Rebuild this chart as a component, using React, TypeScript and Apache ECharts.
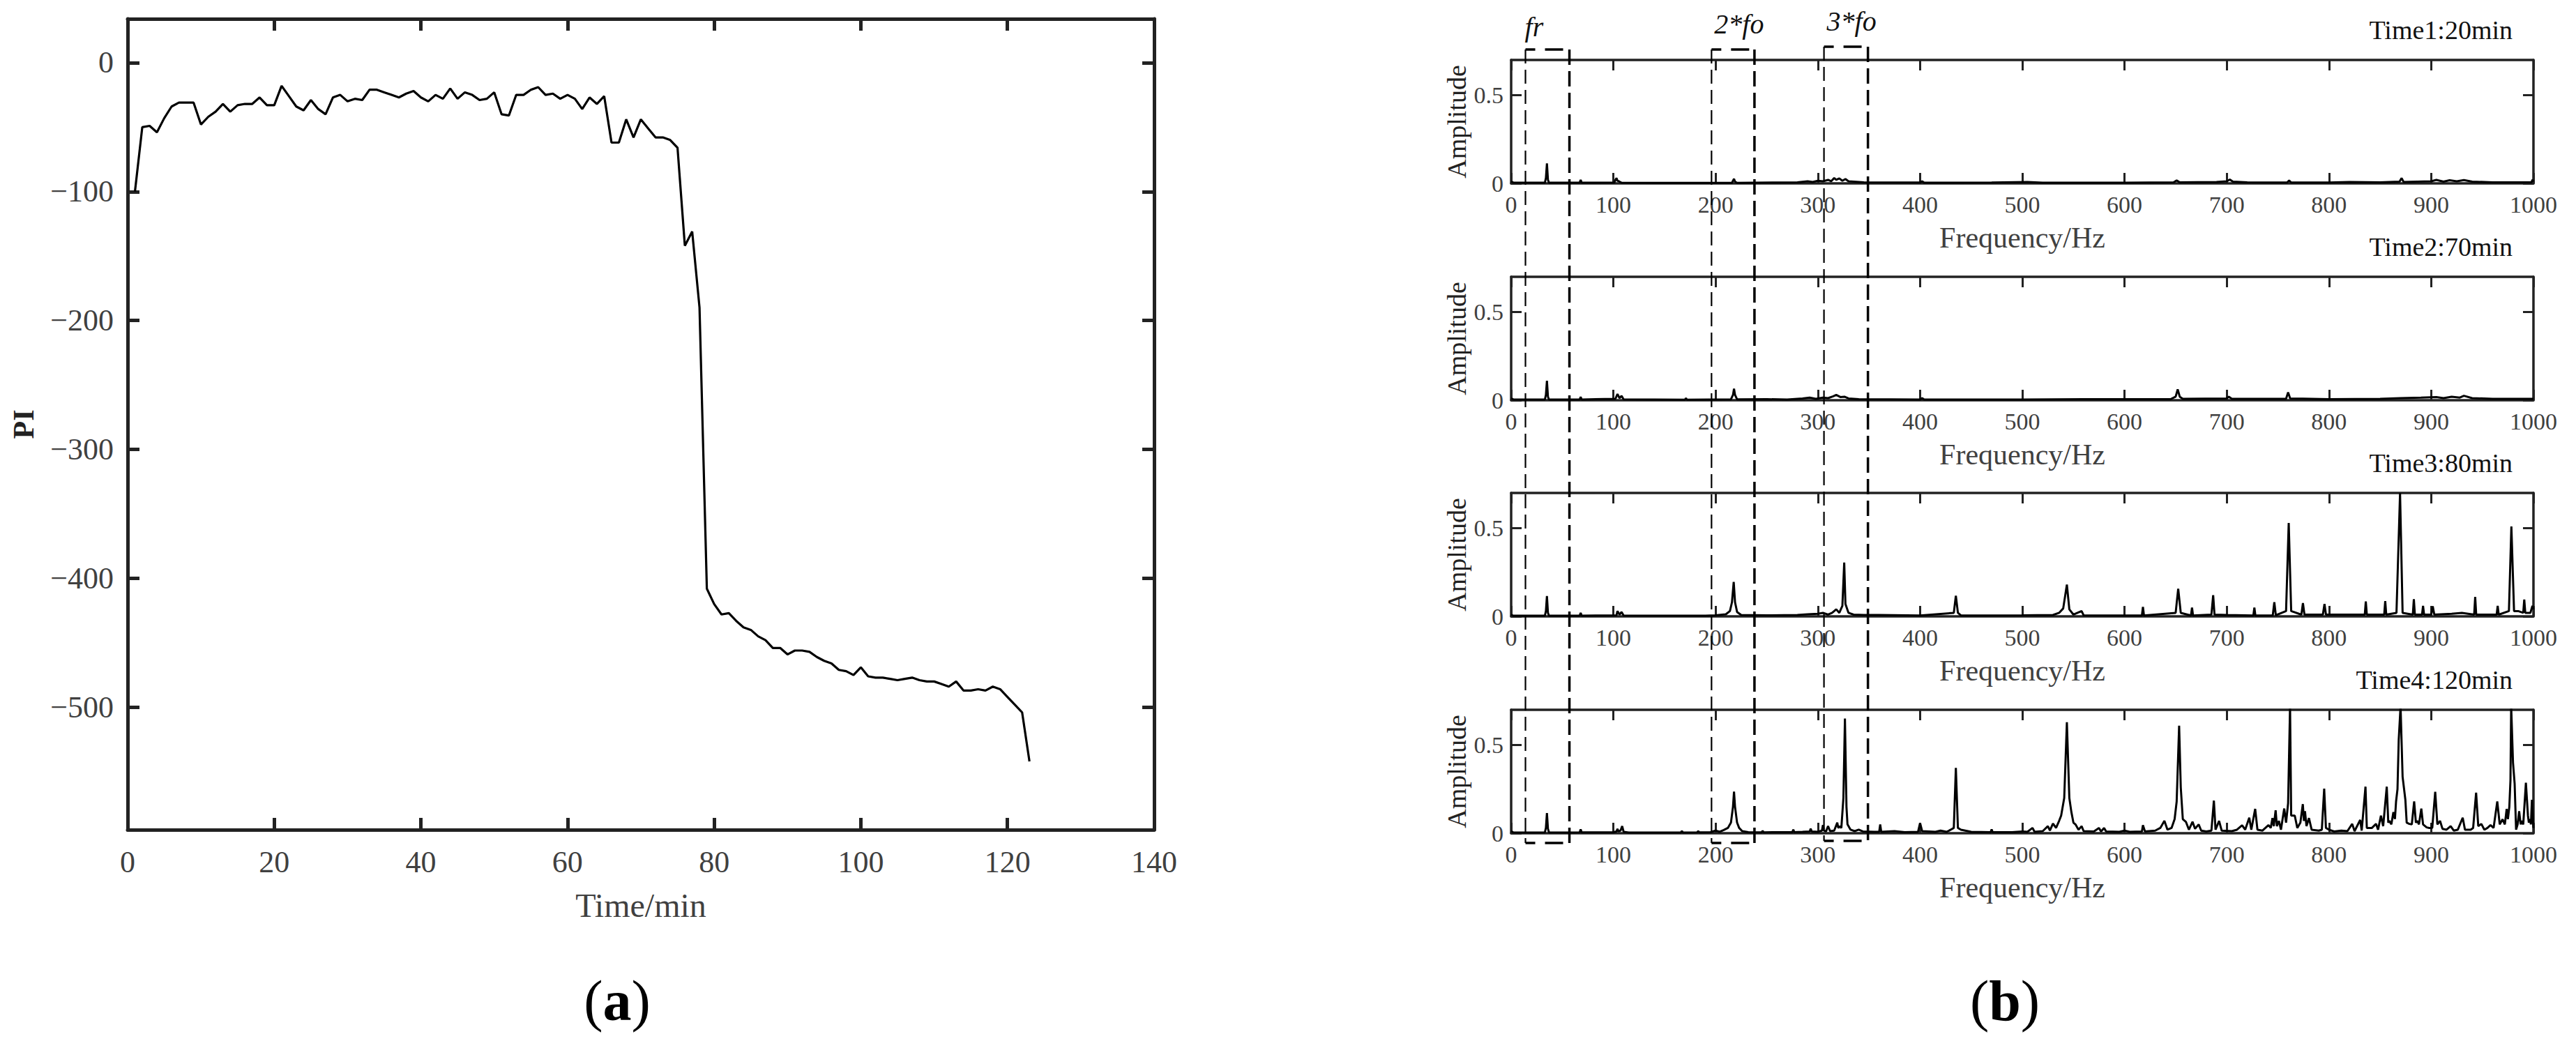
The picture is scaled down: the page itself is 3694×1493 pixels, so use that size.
import React, { useEffect, useRef } from "react";
import * as echarts from "echarts";

// ---------- data: panel (a) ----------
const PI_TIME = [
  1, 2, 3, 4, 5, 6, 7, 8, 9, 10, 11, 12, 13, 14, 15, 16, 17, 18, 19, 20,
  21, 22, 23, 24, 25, 26, 27, 28, 29, 30, 31, 32, 33, 34, 35, 36, 37, 38, 39, 40,
  41, 42, 43, 44, 45, 46, 47, 48, 49, 50, 51, 52, 53, 54, 55, 56, 57, 58, 59, 60,
  61, 62, 63, 64, 65, 66, 67, 68, 69, 70, 71, 72, 73, 74, 75, 76, 77, 78, 79, 80,
  81, 82, 83, 84, 85, 86, 87, 88, 89, 90, 91, 92, 93, 94, 95, 96, 97, 98, 99, 100,
  101, 102, 103, 104, 105, 106, 107, 108, 109, 110, 111, 112, 113, 114, 115, 116, 117, 118, 119, 120,
  121, 122, 123,
];
const PI_VALUES = [
  -100, -50, -49, -54, -43, -34, -31, -31, -31, -48,
  -42, -38, -32, -38, -33, -32, -32, -27, -33, -33,
  -18, -26, -34, -37, -29, -36, -40, -27, -25, -30,
  -28, -29, -21, -21, -23, -25, -27, -24, -22, -27,
  -30, -25, -28, -20, -28, -23, -25, -29, -28, -23,
  -40, -41, -25, -25, -21, -19, -25, -24, -28, -25,
  -28, -36, -27, -32, -26, -62, -62, -44, -58, -44,
  -51, -58, -58, -60, -66, -142, -131, -190, -408, -420,
  -428, -427, -433, -438, -440, -445, -448, -454, -454, -459,
  -456, -456, -457, -461, -464, -466, -471, -472, -475, -469,
  -476, -477, -477, -478, -479, -478, -477, -479, -480, -480,
  -482, -484, -480, -487, -487, -486, -487, -484, -486, -492,
  -498, -504, -542,
];
const PI_X_TICKS = [0, 20, 40, 60, 80, 100, 120, 140];
const PI_Y_TICKS = [-500, -400, -300, -200, -100, 0];

// ---------- data: panel (b) spectra, [frequency Hz, amplitude] ----------
const SPEC_TIME1 = [
  [0, 0.01], [2, 0.005], [33, 0.004], [34, 0.03], [35, 0.113], [36, 0.02], [37, 0.004],
  [67, 0.004], [68, 0.02], [69, 0.004], [101, 0.005], [102, 0.02], [103, 0.03], [104, 0.015],
  [106, 0.01], [108, 0.004], [150, 0.003], [216, 0.003], [217, 0.015], [218, 0.026], [219, 0.01],
  [221, 0.003], [260, 0.005], [280, 0.006], [290, 0.012], [295, 0.008], [300, 0.015], [305, 0.012],
  [310, 0.02], [313, 0.012], [316, 0.03], [318, 0.02], [321, 0.028], [324, 0.015], [327, 0.025],
  [330, 0.012], [335, 0.01], [345, 0.006], [400, 0.005], [402, 0.012], [404, 0.004], [470, 0.005],
  [505, 0.008], [520, 0.004], [600, 0.004], [648, 0.006], [651, 0.017], [654, 0.006], [690, 0.008],
  [700, 0.012], [703, 0.022], [706, 0.01], [720, 0.006], [759, 0.005], [761, 0.016], [763, 0.005],
  [800, 0.005], [820, 0.008], [850, 0.006], [869, 0.01], [871, 0.03], [873, 0.008], [900, 0.012],
  [905, 0.02], [912, 0.01], [918, 0.018], [925, 0.012], [932, 0.019], [940, 0.01], [960, 0.006],
  [998, 0.006], [999, 0.02], [1000, 0.01],
];
const SPEC_TIME2 = [
  [0, 0.01], [2, 0.005], [33, 0.004], [34, 0.03], [35, 0.11], [36, 0.02], [37, 0.004],
  [67, 0.004], [68, 0.018], [69, 0.004], [102, 0.008], [104, 0.035], [106, 0.012], [108, 0.025],
  [110, 0.005], [170, 0.003], [171, 0.012], [172, 0.003], [215, 0.005], [217, 0.03], [218, 0.065],
  [219, 0.03], [221, 0.005], [250, 0.006], [270, 0.004], [285, 0.01], [292, 0.015], [298, 0.008],
  [305, 0.015], [310, 0.012], [315, 0.022], [318, 0.03], [322, 0.018], [326, 0.02], [330, 0.01],
  [340, 0.006], [400, 0.004], [402, 0.012], [404, 0.004], [500, 0.004], [560, 0.006], [645, 0.006],
  [650, 0.02], [652, 0.062], [654, 0.02], [657, 0.008], [700, 0.01], [702, 0.02], [705, 0.008],
  [758, 0.008], [760, 0.045], [762, 0.01], [800, 0.006], [850, 0.008], [870, 0.012], [890, 0.015],
  [905, 0.018], [912, 0.012], [920, 0.02], [928, 0.015], [932, 0.025], [940, 0.012], [960, 0.008],
  [1000, 0.008],
];
const SPEC_TIME3 = [
  [0, 0.01], [2, 0.004], [33, 0.004], [34, 0.03], [35, 0.115], [36, 0.02], [37, 0.004],
  [67, 0.004], [68, 0.02], [69, 0.004], [103, 0.006], [104, 0.03], [106, 0.01], [108, 0.025],
  [110, 0.005], [190, 0.004], [200, 0.006], [210, 0.012], [214, 0.03], [216, 0.08], [217.7, 0.195],
  [219, 0.08], [221, 0.025], [225, 0.008], [250, 0.006], [280, 0.008], [290, 0.012], [300, 0.015],
  [305, 0.02], [310, 0.01], [314, 0.02], [318, 0.04], [321, 0.02], [324, 0.06], [325.8, 0.305],
  [327, 0.07], [330, 0.02], [335, 0.01], [345, 0.008], [360, 0.008], [400, 0.005], [433, 0.02],
  [435, 0.117], [437, 0.02], [440, 0.005], [500, 0.006], [530, 0.008], [536, 0.02], [540, 0.045],
  [543.6, 0.18], [546, 0.04], [550, 0.01], [558, 0.03], [560, 0.006], [600, 0.005], [617, 0.005],
  [618, 0.054], [619, 0.005], [650, 0.02], [652.5, 0.157], [655, 0.02], [665, 0.005], [666, 0.05],
  [667, 0.005], [685, 0.01], [686.7, 0.12], [688, 0.01], [700, 0.008], [726, 0.005], [727, 0.05],
  [728, 0.005], [745, 0.006], [746.5, 0.08], [748, 0.006], [758, 0.03], [760.6, 0.53], [763, 0.03],
  [773, 0.01], [774.5, 0.075], [776, 0.01], [794, 0.01], [795.6, 0.07], [797, 0.01], [820, 0.01],
  [835, 0.01], [836, 0.085], [837, 0.01], [854, 0.01], [855, 0.087], [856, 0.01], [866, 0.02],
  [869.5, 0.7], [872, 0.02], [882, 0.01], [883, 0.097], [884, 0.01], [891, 0.01], [892, 0.06],
  [893, 0.01], [900, 0.01], [901.5, 0.057], [903, 0.01], [920, 0.015], [930, 0.02], [942, 0.01],
  [943, 0.11], [944, 0.01], [964, 0.01], [965, 0.06], [966, 0.01], [976, 0.03], [978.4, 0.51],
  [981, 0.03], [985, 0.03], [990, 0.02], [991, 0.095], [992, 0.02], [997, 0.02], [999, 0.06],
  [1000, 0.04],
];
const SPEC_TIME4 = [
  [0, 0.012], [2, 0.005], [20, 0.004], [33, 0.005], [34, 0.03], [35, 0.114], [36, 0.025], [37, 0.005],
  [60, 0.004], [67, 0.005], [68, 0.022], [69, 0.005], [100, 0.005], [103, 0.01], [104, 0.024],
  [105, 0.01], [107, 0.015], [108.6, 0.04], [110, 0.008], [115, 0.004], [150, 0.004], [166, 0.004],
  [167, 0.012], [168, 0.004], [182, 0.005], [183, 0.012], [184, 0.005], [195, 0.006], [200, 0.015],
  [204, 0.008], [208, 0.018], [212, 0.03], [215, 0.06], [217, 0.15], [218, 0.236], [219, 0.15],
  [221, 0.06], [223, 0.03], [226, 0.012], [232, 0.006], [245, 0.005], [246, 0.013], [247, 0.005],
  [260, 0.006], [275, 0.006], [276, 0.02], [277, 0.006], [285, 0.008], [292, 0.01], [293, 0.026],
  [294, 0.01], [300, 0.008], [304, 0.015], [305, 0.046], [306, 0.015], [308, 0.01], [310, 0.04],
  [312, 0.012], [316, 0.015], [319, 0.06], [320, 0.03], [321.5, 0.04], [323, 0.03], [325, 0.2],
  [326.5, 0.65], [328, 0.15], [329, 0.05], [332, 0.02], [336, 0.012], [340, 0.02], [344, 0.01],
  [355, 0.008], [360, 0.008], [361, 0.05], [362, 0.008], [375, 0.012], [385, 0.006], [398, 0.008],
  [400, 0.058], [402, 0.012], [415, 0.008], [420, 0.015], [426, 0.008], [430, 0.02], [433, 0.03],
  [435, 0.371], [437, 0.03], [440, 0.02], [450, 0.008], [469, 0.006], [470, 0.022], [471, 0.006],
  [490, 0.006], [500, 0.01], [505, 0.008], [510, 0.03], [512, 0.008], [520, 0.012], [525, 0.04],
  [527, 0.015], [530, 0.055], [533, 0.03], [536, 0.07], [538, 0.1], [541, 0.2], [543.6, 0.63],
  [546, 0.2], [548, 0.12], [550, 0.06], [552, 0.05], [555, 0.02], [558, 0.04], [560, 0.012],
  [570, 0.01], [575, 0.03], [577, 0.01], [580, 0.03], [582, 0.01], [595, 0.008], [600, 0.015],
  [605, 0.008], [617, 0.01], [618, 0.046], [620, 0.01], [630, 0.015], [635, 0.03], [639, 0.07],
  [642, 0.02], [646, 0.03], [649, 0.08], [651, 0.18], [653.4, 0.61], [655, 0.26], [657, 0.08],
  [660, 0.065], [663, 0.02], [666.5, 0.065], [669, 0.025], [672.5, 0.05], [675, 0.015], [680, 0.01],
  [685, 0.015], [687.4, 0.185], [689, 0.02], [692.5, 0.07], [695, 0.015], [705, 0.012], [710, 0.02],
  [715, 0.045], [718, 0.02], [722, 0.088], [724, 0.02], [727.8, 0.138], [730, 0.02], [735, 0.015],
  [740.8, 0.046], [743, 0.03], [744.7, 0.086], [746, 0.04], [747.8, 0.13], [749, 0.04], [751, 0.07],
  [753, 0.02], [756.2, 0.14], [758, 0.06], [760, 0.17], [761.9, 0.72], [763, 0.1], [766.5, 0.1],
  [769, 0.03], [772, 0.06], [774.4, 0.165], [775.5, 0.07], [776.5, 0.125], [778, 0.04], [780.4, 0.086],
  [783, 0.02], [790, 0.015], [793, 0.02], [795.3, 0.253], [797, 0.03], [800, 0.02], [805, 0.01],
  [812, 0.015], [818, 0.012], [822.7, 0.053], [825, 0.012], [830.5, 0.075], [832, 0.015],
  [835.7, 0.264], [837, 0.03], [842, 0.03], [846, 0.053], [848, 0.02], [850.8, 0.1], [853, 0.04],
  [856.5, 0.264], [858, 0.06], [859, 0.07], [861, 0.05], [863, 0.12], [864.5, 0.08], [865.6, 0.18],
  [867, 0.25], [868.2, 0.53], [870, 0.72], [872, 0.32], [874.7, 0.19], [876, 0.06], [878.6, 0.053],
  [881, 0.05], [883.3, 0.18], [885, 0.06], [886.4, 0.07], [888, 0.05], [890.3, 0.14], [892, 0.05],
  [895.5, 0.033], [898, 0.03], [901, 0.03], [903.9, 0.235], [906, 0.05], [908.6, 0.07], [911, 0.025],
  [915, 0.02], [919, 0.04], [922, 0.015], [926, 0.02], [930.8, 0.088], [933, 0.02], [938.6, 0.02],
  [941, 0.03], [943.9, 0.23], [946, 0.04], [949, 0.053], [952, 0.02], [955, 0.03], [958, 0.046],
  [961, 0.03], [964.6, 0.18], [967, 0.05], [969.8, 0.079], [972, 0.05], [973.8, 0.138], [975, 0.08],
  [976.4, 0.15], [977.5, 0.3], [978.2, 0.72], [980, 0.4], [981.6, 0.28], [983, 0.02], [984.5, 0.05],
  [986, 0.125], [987.5, 0.05], [988.6, 0.07], [990, 0.05], [992.6, 0.286], [994.6, 0.1], [995.5, 0.06],
  [996.7, 0.08], [997.5, 0.05], [998.5, 0.19], [999.8, 0.04], [1000, 0.03],
];
const SPECTRA = [SPEC_TIME1, SPEC_TIME2, SPEC_TIME3, SPEC_TIME4];
const SPEC_LABELS = ["Time1:20min", "Time2:70min", "Time3:80min", "Time4:120min"];
const SPEC_Y_TICKS = [0, 0.5];

// dashed marker boxes (frequency ranges, Hz) and their labels
const BOX_RANGES = [
  [14, 57],
  [196, 238],
  [306, 349],
];
const BOX_LABELS = ["fr", "2*fo", "3*fo"];

// ---------- layout ----------
const W = 3694;
const H = 1493;
const FONT = "'Liberation Serif', 'Times New Roman', Times, serif";
const FRAME = "#222222";
const LABEL = "#404040";

const LEFT_GRID = { left: 183, top: 27, width: 1472, height: 1163 };
const RIGHT_LEFT = 2167;
const RIGHT_WIDTH = 1466;
const RIGHT_TOPS = [86, 397, 707, 1018];
const RIGHT_HEIGHT = 177;

const minusFmt = (v: number) => (v < 0 ? "\u2212" + Math.abs(v) : String(v));
const plainFmt = (v: number) => String(v);

function buildOption() {
  const grids: any[] = [
    { left: LEFT_GRID.left, top: LEFT_GRID.top, width: LEFT_GRID.width, height: LEFT_GRID.height, containLabel: false },
  ];
  RIGHT_TOPS.forEach((t) =>
    grids.push({ left: RIGHT_LEFT, top: t, width: RIGHT_WIDTH, height: RIGHT_HEIGHT, containLabel: false })
  );

  const xAxes: any[] = [];
  const yAxes: any[] = [];

  // panel (a)
  const aLine = { show: true, onZero: false, lineStyle: { color: FRAME, width: 5 } };
  const aTick = { show: true, inside: true, length: 17, lineStyle: { color: FRAME, width: 5 } };
  xAxes.push({
    gridIndex: 0,
    type: "value",
    position: "bottom",
    min: PI_X_TICKS[0],
    max: PI_X_TICKS[PI_X_TICKS.length - 1],
    interval: 20,
    axisLine: aLine,
    axisTick: aTick,
    splitLine: { show: false },
    axisLabel: { fontFamily: FONT, fontSize: 44, color: LABEL, margin: 24, formatter: plainFmt },
    name: "Time/min",
    nameLocation: "middle",
    nameGap: 84,
    nameTextStyle: { fontFamily: FONT, fontSize: 48, color: LABEL },
  });
  xAxes.push({
    gridIndex: 0,
    type: "value",
    position: "top",
    min: PI_X_TICKS[0],
    max: PI_X_TICKS[PI_X_TICKS.length - 1],
    interval: 20,
    axisLine: aLine,
    axisTick: aTick,
    splitLine: { show: false },
    axisLabel: { show: false },
  });
  yAxes.push({
    gridIndex: 0,
    type: "value",
    position: "left",
    min: -595,
    max: 34,
    axisLine: aLine,
    axisTick: { ...aTick, customValues: PI_Y_TICKS },
    splitLine: { show: false },
    axisLabel: {
      customValues: PI_Y_TICKS,
      formatter: minusFmt,
      fontFamily: FONT,
      fontSize: 44,
      color: LABEL,
      margin: 20,
    },
    name: "PI",
    nameLocation: "middle",
    nameGap: 128,
    nameTextStyle: { fontFamily: FONT, fontSize: 42, fontWeight: "bold", color: "#222" },
  });
  yAxes.push({
    gridIndex: 0,
    type: "value",
    position: "right",
    min: -595,
    max: 34,
    axisLine: aLine,
    axisTick: { ...aTick, customValues: PI_Y_TICKS },
    splitLine: { show: false },
    axisLabel: { show: false },
  });

  // panel (b)
  const bLine = { show: true, onZero: false, lineStyle: { color: FRAME, width: 3.5 } };
  const bTick = { show: true, inside: true, length: 15, lineStyle: { color: FRAME, width: 3 } };
  for (let i = 0; i < 4; i++) {
    const g = i + 1;
    xAxes.push({
      gridIndex: g,
      type: "value",
      position: "bottom",
      min: 0,
      max: 1000,
      interval: 100,
      axisLine: bLine,
      axisTick: bTick,
      splitLine: { show: false },
      axisLabel: { fontFamily: FONT, fontSize: 34, color: LABEL, margin: 13, formatter: plainFmt },
      name: "Frequency/Hz",
      nameLocation: "middle",
      nameGap: 57,
      nameTextStyle: { fontFamily: FONT, fontSize: 42, color: LABEL },
    });
    xAxes.push({
      gridIndex: g,
      type: "value",
      position: "top",
      min: 0,
      max: 1000,
      interval: 100,
      axisLine: bLine,
      axisTick: bTick,
      splitLine: { show: false },
      axisLabel: { show: false },
    });
    yAxes.push({
      gridIndex: g,
      type: "value",
      position: "left",
      min: 0,
      max: 0.7,
      axisLine: bLine,
      axisTick: { ...bTick, customValues: SPEC_Y_TICKS },
      splitLine: { show: false },
      axisLabel: {
        customValues: SPEC_Y_TICKS,
        formatter: plainFmt,
        fontFamily: FONT,
        fontSize: 34,
        color: LABEL,
        margin: 11,
      },
      name: "Amplitude",
      nameLocation: "middle",
      nameGap: 59,
      nameTextStyle: { fontFamily: FONT, fontSize: 38, color: "#222" },
    });
    yAxes.push({
      gridIndex: g,
      type: "value",
      position: "right",
      min: 0,
      max: 0.7,
      axisLine: bLine,
      axisTick: { ...bTick, customValues: SPEC_Y_TICKS },
      splitLine: { show: false },
      axisLabel: { show: false },
    });
  }

  const series: any[] = [
    {
      type: "line",
      xAxisIndex: 0,
      yAxisIndex: 0,
      data: PI_TIME.map((t, i) => [t, PI_VALUES[i]]),
      symbol: "none",
      lineStyle: { color: "#000", width: 3.2 },
      z: 3,
    },
  ];
  SPECTRA.forEach((spec, i) => {
    series.push({
      type: "line",
      xAxisIndex: 2 + 2 * i,
      yAxisIndex: 2 + 2 * i,
      data: spec,
      symbol: "none",
      clip: true,
      lineStyle: { color: "#000", width: 3 },
      z: 3,
    });
  });

  return {
    animation: false,
    backgroundColor: "#ffffff",
    textStyle: { fontFamily: FONT },
    grid: grids,
    xAxis: xAxes,
    yAxis: yAxes,
    series,
  };
}

function buildGraphics(chart: any) {
  const g: any[] = [];
  const textStyle = (extra: any) => ({ fontFamily: FONT, fill: "#111", ...extra });

  // time labels above each spectrum
  RIGHT_TOPS.forEach((t, i) => {
    g.push({
      type: "text",
      x: RIGHT_LEFT + RIGHT_WIDTH - 30,
      y: t - 43,
      z: 10,
      style: textStyle({ text: SPEC_LABELS[i], fontSize: 38, align: "right", verticalAlign: "middle" }),
    });
  });

  // dashed boxes
  const top1 = RIGHT_TOPS[0];
  const bottom4 = RIGHT_TOPS[3] + RIGHT_HEIGHT;
  const boxTops = [top1 - 15, top1 - 15, top1 - 19];
  const boxBottoms = [bottom4 + 14, bottom4 + 14, bottom4 + 11];
  const labelYs = [38, 34, 30];
  BOX_RANGES.forEach((r, i) => {
    const x1 = chart.convertToPixel({ xAxisIndex: 2 }, r[0]);
    const x2 = chart.convertToPixel({ xAxisIndex: 2 }, r[1]);
    const y1 = boxTops[i];
    const y2 = boxBottoms[i];
    const thin = { stroke: "#000", lineWidth: 2.2, lineDash: [20, 9], fill: null };
    const thick = { stroke: "#000", lineWidth: 3.5, lineDash: [22, 9], fill: null };
    const horiz = { stroke: "#000", lineWidth: 3.5, lineDash: [26, 14], lineDashOffset: 12, fill: null };
    g.push({ type: "line", z: 20, shape: { x1: x1, y1: y1, x2: x1, y2: y2 }, style: thin });
    g.push({ type: "line", z: 20, shape: { x1: x2, y1: y1, x2: x2, y2: y2 }, style: thick });
    g.push({ type: "line", z: 20, shape: { x1: x1, y1: y1, x2: x2, y2: y1 }, style: horiz });
    g.push({ type: "line", z: 20, shape: { x1: x1, y1: y2, x2: x2, y2: y2 }, style: horiz });
    g.push({
      type: "text",
      x: x1 + (i === 0 ? -1 : 4),
      y: labelYs[i],
      z: 20,
      style: textStyle({
        text: BOX_LABELS[i],
        fontSize: 40,
        fontStyle: "italic",
        align: "left",
        verticalAlign: "middle",
      }),
    });
  });

  // panel captions
  const caption = (letter: string, cx: number) => ({
    type: "text",
    x: cx,
    y: 1435,
    z: 10,
    style: {
      text: "{p|(}{b|" + letter + "}{p|)}",
      align: "center",
      verticalAlign: "middle",
      rich: {
        p: { fontFamily: FONT, fontSize: 82, fill: "#000" },
        b: { fontFamily: FONT, fontSize: 82, fontWeight: "bold", fill: "#000" },
      },
    },
  });
  g.push(caption("a", 885));
  g.push(caption("b", 2875));
  return g;
}

export default function App() {
  const ref = useRef<HTMLDivElement>(null);
  useEffect(() => {
    if (!ref.current) return;
    const chart = echarts.init(ref.current, undefined, { renderer: "svg" });
    chart.setOption(buildOption());
    chart.setOption({ graphic: buildGraphics(chart) });
    return () => chart.dispose();
  }, []);
  return (
    <div
      ref={ref}
      style={{ position: "absolute", left: 0, top: 0, width: W, height: H, background: "#ffffff" }}
    />
  );
}
